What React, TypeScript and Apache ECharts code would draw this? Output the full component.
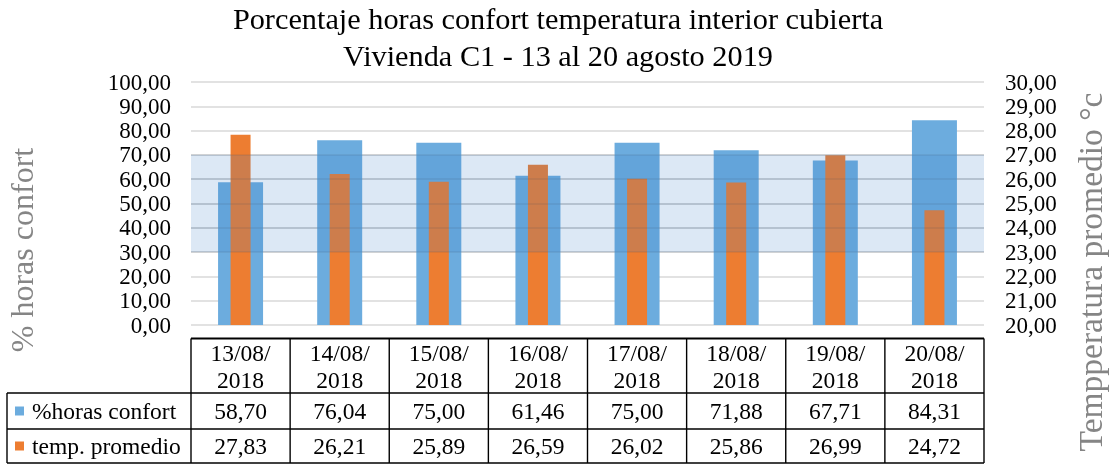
import React, { useEffect, useRef } from "react";
import * as echarts from "echarts";

const categories = ["13/08/2018", "14/08/2018", "15/08/2018", "16/08/2018", "17/08/2018", "18/08/2018", "19/08/2018", "20/08/2018"];
const comfortPct = [58.7, 76.04, 75.0, 61.46, 75.0, 71.88, 67.71, 84.31];
const avgTemp = [27.83, 26.21, 25.89, 26.59, 26.02, 25.86, 26.99, 24.72];
const seriesNames = ["%horas confort", "temp. promedio"];
const comfortBand = [30, 70];
const bandLines = [30, 40, 50, 60, 70];
const leftAxisRange = { min: 0, max: 100, interval: 10 };
const rightAxisRange = { min: 20, max: 30, interval: 1 };
const titleText = "Porcentaje horas confort temperatura interior cubierta\nVivienda C1 - 13 al 20 agosto 2019";
const leftAxisName = "% horas confort";
const rightAxisName = "Tempperatura promedio °c";

const FONT = "'Liberation Serif', 'Times New Roman', serif";
const BLUE = "#6CACDE";
const ORANGE = "#ED7D31";

const fmt = (v: number) => v.toFixed(2).replace(".", ",");

export default function App() {
  const ref = useRef<HTMLDivElement>(null);
  useEffect(() => {
    if (!ref.current) return;
    const chart = echarts.init(ref.current, null, { renderer: "svg" });

    const gridLeft = 191;
    const gridRight = 984;
    const gridTop = 82;
    const gridBottom = 325;
    const colW = (gridRight - gridLeft) / categories.length;
    const tableTop = 338.5;
    const rowHeader = 393;
    const row1 = 429;
    const row2 = 463;
    const legendLeft = 7;
    const tableFont = 23.5;
    const stroke = "#000";
    const lw = 1.4;

    const graphics: any[] = [];
    const line = (x1: number, y1: number, x2: number, y2: number, w = lw) =>
      graphics.push({ type: "line", shape: { x1, y1, x2, y2 }, style: { stroke, lineWidth: w }, silent: true });
    const text = (x: number, y: number, t: string, align = "center", size = tableFont) =>
      graphics.push({
        type: "text",
        x,
        y,
        style: { text: t, fill: "#000", font: `${size}px ${FONT}`, align, verticalAlign: "middle" },
        silent: true,
      });

    // table borders
    line(gridLeft, tableTop, gridRight, tableTop, 2);
    line(legendLeft, rowHeader, gridRight, rowHeader);
    line(legendLeft, row1, gridRight, row1);
    line(legendLeft, row2, gridRight, row2);
    line(legendLeft, rowHeader, legendLeft, row2);
    for (let i = 0; i <= categories.length; i++) {
      const x = gridLeft + i * colW;
      line(x, tableTop, x, row2);
    }
    // header and values
    categories.forEach((c, i) => {
      const cx = gridLeft + (i + 0.5) * colW;
      const parts = c.split("/");
      text(cx, 353, `${parts[0]}/${parts[1]}/`);
      text(cx, 380, parts[2]);
      text(cx, (rowHeader + row1) / 2, fmt(comfortPct[i]));
      text(cx, (row1 + row2) / 2, fmt(avgTemp[i]));
    });
    // legend cells
    const legendColors = [BLUE, ORANGE];
    [(rowHeader + row1) / 2, (row1 + row2) / 2].forEach((cy, k) => {
      graphics.push({ type: "rect", shape: { x: 15, y: cy - 4.5, width: 9, height: 9 }, style: { fill: legendColors[k] }, silent: true });
      text(32, cy, seriesNames[k], "left");
    });
    // axis names
    graphics.push({
      type: "text",
      x: 22,
      y: 250,
      rotation: Math.PI / 2,
      style: { text: leftAxisName, fill: "#858585", font: `32px ${FONT}`, align: "center", verticalAlign: "middle" },
      silent: true,
    });
    graphics.push({
      type: "text",
      x: 1090,
      y: 272,
      rotation: Math.PI / 2,
      style: { text: rightAxisName, fill: "#858585", font: `33.5px ${FONT}`, align: "center", verticalAlign: "middle" },
      silent: true,
    });

    chart.setOption({
      animation: false,
      title: {
        text: titleText,
        left: "center",
        top: 0,
        padding: 0,
        textStyle: { fontFamily: FONT, fontSize: 30.3, fontWeight: "normal", color: "#000", lineHeight: 37 },
      },
      grid: { left: gridLeft, right: 1116 - gridRight, top: gridTop, bottom: 464 - gridBottom, containLabel: false },
      xAxis: [
        { type: "category", data: categories, axisLine: { show: false }, axisTick: { show: false }, axisLabel: { show: false } },
        { type: "category", data: categories, show: false },
      ],
      yAxis: [
        {
          type: "value",
          ...leftAxisRange,
          axisLine: { show: false },
          axisTick: { show: false },
          axisLabel: { formatter: fmt, fontFamily: FONT, fontSize: 23, color: "#000", margin: 20 },
          splitLine: { lineStyle: { color: "#d9d9d9", width: 1.5 } },
        },
        {
          type: "value",
          ...rightAxisRange,
          position: "right",
          axisLine: { show: false },
          axisTick: { show: false },
          axisLabel: { formatter: fmt, fontFamily: FONT, fontSize: 23, color: "#000", margin: 21 },
          splitLine: { show: false },
        },
      ],
      series: [
        {
          name: seriesNames[0],
          type: "bar",
          xAxisIndex: 0,
          yAxisIndex: 0,
          data: comfortPct,
          barWidth: 45,
          itemStyle: { color: BLUE },
          z: 2,
        },
        {
          name: seriesNames[1],
          type: "bar",
          xAxisIndex: 1,
          yAxisIndex: 1,
          data: avgTemp,
          barWidth: 20,
          itemStyle: { color: ORANGE },
          z: 3,
        },
        {
          name: "band",
          type: "line",
          xAxisIndex: 0,
          yAxisIndex: 0,
          data: [],
          z: 10,
          silent: true,
          markArea: {
            z: 10,
            silent: true,
            itemStyle: { color: "rgba(60,130,200,0.18)", opacity: 1 },
            data: [[{ yAxis: comfortBand[0] }, { yAxis: comfortBand[1] }]],
          },
          markLine: {
            z: 11,
            silent: true,
            symbol: ["none", "none"],
            label: { show: false },
            lineStyle: { color: "rgba(60,80,100,0.14)", width: 1.5, type: "solid" },
            data: bandLines.map((v) => ({ yAxis: v })),
          },
        },
      ],
      graphic: graphics,
    });
    return () => chart.dispose();
  }, []);
  return <div ref={ref} style={{ position: "fixed", left: 0, top: 0, width: 1116, height: 464 }} />;
}
